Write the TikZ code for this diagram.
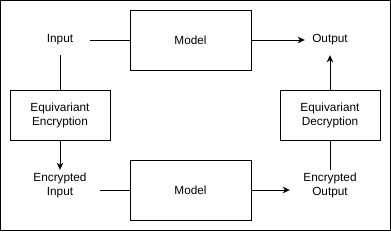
\documentclass[tikz,border=0pt]{standalone}
\usepackage{fontspec}
\setmainfont{Liberation Sans}
\usetikzlibrary{arrows.meta, positioning}

\begin{document}
\begin{tikzpicture}[x=1pt, y=-1pt,
    font=\fontsize{11.8}{14}\selectfont,
    box/.style={draw, line width=1pt, minimum width=100pt,
                minimum height=50pt, inner sep=0pt, align=center},
    modelbox/.style={box, minimum width=121pt, minimum height=60pt},
    label/.style={minimum width=60pt, minimum height=30pt,
                  inner sep=0pt, align=center},
    link/.style={line width=1pt},
    arrow/.style={link, -{Stealth[length=7pt, width=6.5pt, inset=2pt]}}]
  \useasboundingbox (0,0) rectangle (391,231);
  \draw[line width=1.2pt] (0.8,0.8) rectangle (390.2,230.2);

  % Plain path
  \node[label] (inp) at (60,40) {Input};
  \node[modelbox] (mtop) at (190.5,40) {Model};
  \node[label, minimum width=50pt] (out) at (330,40) {Output};

  % Encrypted path
  \node[box] (enc) at (60,115) {Equivariant\\Encryption};
  \node[label, minimum width=80pt] (einp) at (60,185) {Encrypted\\Input};
  \node[modelbox] (mbot) at (190.5,190) {Model};
  \node[label, minimum width=80pt] (eout) at (330,185) {Encrypted\\Output};
  \node[box] (dec) at (330,115) {Equivariant\\Decryption};

  \draw[link] (inp) -- (mtop);
  \draw[arrow] (mtop) -- (out);
  \draw[link] (inp) -- (enc);
  \draw[arrow] (enc) -- (einp);
  \draw[link] (einp.east |- mbot.west) -- (mbot.west);
  \draw[arrow] (mbot.east) -- (eout.west |- mbot.east);
  \draw[link] (eout) -- (dec);
  \draw[arrow] (dec) -- (out);
\end{tikzpicture}
\end{document}
